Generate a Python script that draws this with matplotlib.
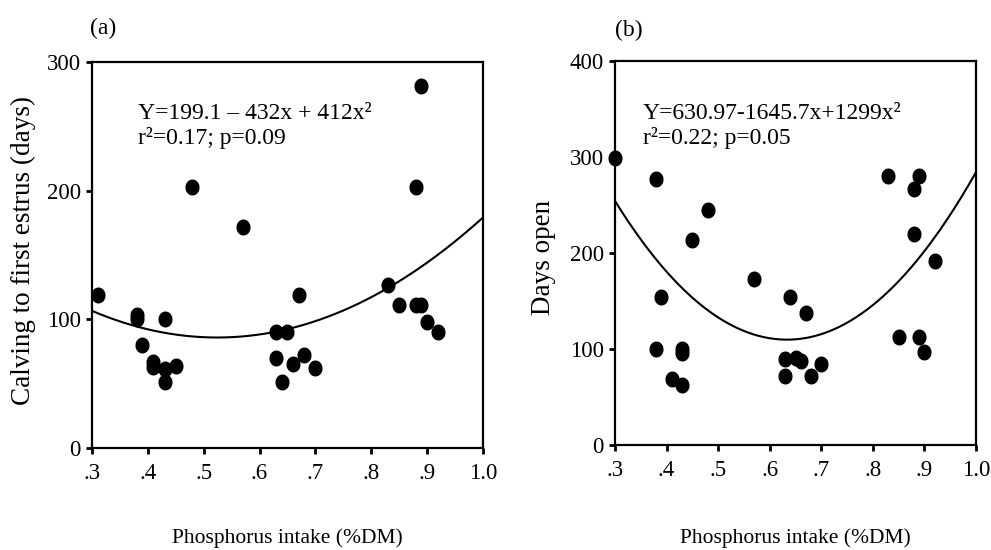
import numpy as np
import matplotlib
matplotlib.use("Agg")
import matplotlib.pyplot as plt
from matplotlib.path import Path

plt.rcParams['font.family'] = ['Liberation Serif', 'DejaVu Serif']

# ---- data ----
a_x = [0.31, 0.38, 0.38, 0.39, 0.41, 0.41, 0.43, 0.43, 0.43, 0.45, 0.48, 0.57,
       0.63, 0.63, 0.64, 0.65, 0.66, 0.67, 0.68, 0.70,
       0.83, 0.85, 0.88, 0.88, 0.89, 0.89, 0.90, 0.92]
a_y = [119, 103, 100, 80, 67, 63, 100, 61, 51, 64, 203, 172,
       90, 70, 51, 90, 65, 119, 72, 62,
       127, 111, 203, 111, 281, 111, 98, 90]
a_coef = [412, -432, 199.1]          # from printed equation
a_eq = "Y=199.1 \u2013 432x + 412x\u00b2"
a_stat = "r\u00b2=0.17; p=0.09"

b_x = [0.30, 0.38, 0.38, 0.39, 0.41, 0.43, 0.43, 0.43, 0.45, 0.48, 0.57,
       0.63, 0.63, 0.64, 0.65, 0.66, 0.67, 0.68, 0.70,
       0.83, 0.85, 0.88, 0.88, 0.89, 0.89, 0.90, 0.92]
b_y = [299, 277, 100, 154, 69, 100, 96, 62, 214, 245, 173,
       90, 72, 154, 91, 87, 138, 72, 84,
       280, 113, 267, 220, 280, 113, 97, 192]
b_coef = [1299, -1645.7, 630.97]
b_eq = "Y=630.97-1645.7x+1299x\u00b2"
b_stat = "r\u00b2=0.22; p=0.05"

x_ticks = [0.3, 0.4, 0.5, 0.6, 0.7, 0.8, 0.9, 1.0]
x_ticklabels = [".3", ".4", ".5", ".6", ".7", ".8", ".9", "1.0"]
a_yticks = [0, 100, 200, 300]
b_yticks = [0, 100, 200, 300, 400]
xlabel = "Phosphorus intake (%DM)"
a_ylabel = "Calving to first estrus (days)"
b_ylabel = "Days open"

# ellipse marker (slightly narrow)
t = np.linspace(0, 2 * np.pi, 60)
ell = Path(np.column_stack([0.87 * np.cos(t), np.sin(t)]), closed=True)

fig = plt.figure(figsize=(9.91, 5.5), dpi=100)
ax1 = fig.add_axes([0.0928, 0.1855, 0.3945, 0.7018])
ax2 = fig.add_axes([0.6206, 0.1909, 0.3643, 0.6982])

xx = np.linspace(0.3, 1.0, 200)

def style(ax, yticks, ylim):
    ax.set_xlim(0.3, 1.0)
    ax.set_ylim(*ylim)
    ax.set_xticks(x_ticks)
    ax.set_xticklabels(x_ticklabels)
    ax.set_yticks(yticks)
    ax.tick_params(direction='out', length=4, width=2, labelsize=16.5, pad=4)
    ax.tick_params(axis='x', pad=7)
    for s in ax.spines.values():
        s.set_linewidth(1.6)

for ax, xs, ys, coef, eq, st, yt, yl, ty in [
    (ax1, a_x, a_y, a_coef, a_eq, a_stat, a_yticks, (0, 300), 0.834),
    (ax2, b_x, b_y, b_coef, b_eq, b_stat, b_yticks, (0, 400), 0.831),
]:
    ax.plot(xx, np.polyval(coef, xx), color='black', lw=1.5)
    ax.plot(xs, ys, linestyle='none', marker=ell, markersize=10.5,
            color='black', clip_on=False)
    style(ax, yt, yl)
    ax.text(0, ty, eq + "\n" + st, transform=ax.transAxes,
            fontsize=17, va='center', ha='left', linespacing=1.15)
    ax.set_xlabel(xlabel, fontsize=15.5, va='center')

ax1.texts[0].set_x((0.382 - 0.3) / 0.7)
ax2.texts[0].set_x((0.354 - 0.3) / 0.7)
ax1.xaxis.set_label_coords(0.5, -90 / 386)
ax2.xaxis.set_label_coords(0.5, -93 / 384)

ax1.set_ylabel(a_ylabel, fontsize=19.5, va='center')
ax2.set_ylabel(b_ylabel, fontsize=19.5, va='center')
ax1.yaxis.set_label_coords(-69 / 391, (448 - 251) / 386)
ax2.yaxis.set_label_coords(-72 / 361, (445 - 257) / 384)

fig.text(90 / 991, 1 - 28 / 550, "(a)", fontsize=17, ha='left', va='center')
fig.text(615 / 991, 1 - 30 / 550, "(b)", fontsize=17, ha='left', va='center')

fig.savefig("out.png", dpi=100)
